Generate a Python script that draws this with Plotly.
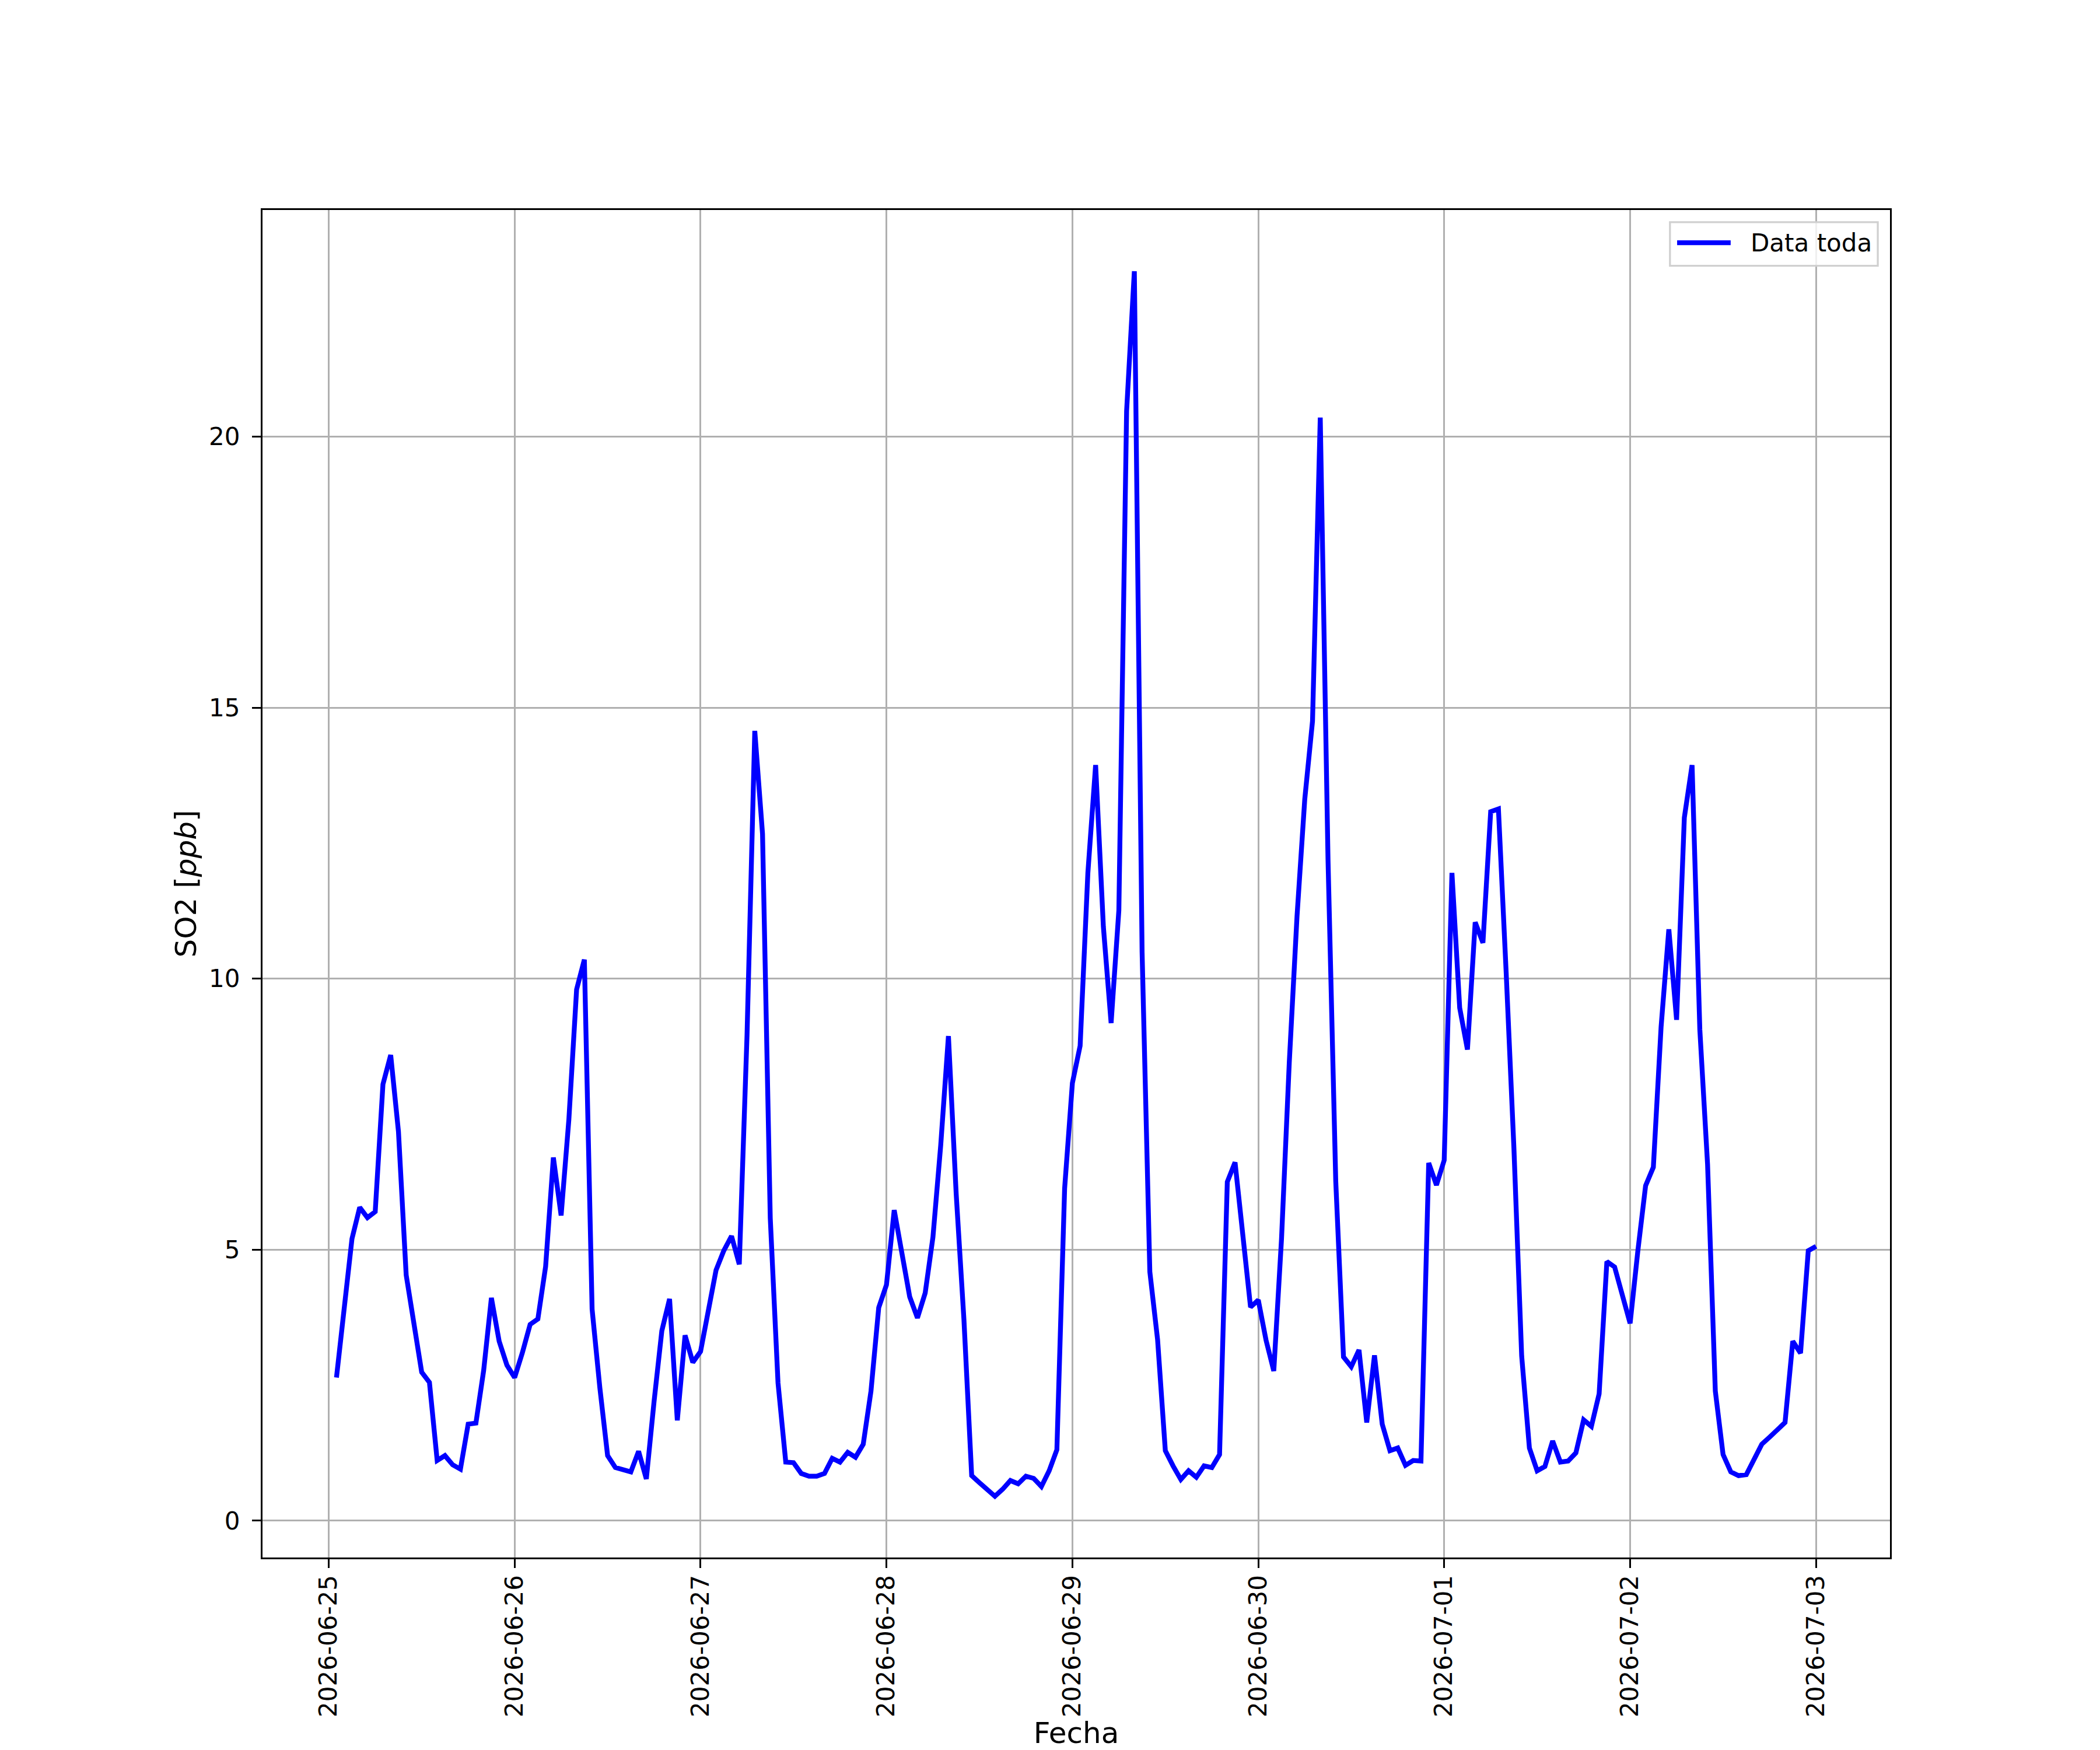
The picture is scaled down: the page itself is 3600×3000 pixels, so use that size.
import pandas as pd
import plotly.graph_objects as go

# hourly SO2 readings, 2026-06-25 01:00 .. 2026-07-03 00:00
start_time = "2026-06-25 01:00"
so2_ppb = [
    # 06-25
    2.64, 3.9, 5.2, 5.78, 5.59, 5.70, 8.05, 8.59, 7.18, 4.53, 3.62, 2.74,
    2.55, 1.11, 1.20, 1.03, 0.95, 1.78, 1.80, 2.77, 4.11, 3.31, 2.87, 2.64,
    # 06-26
    3.10, 3.62, 3.72, 4.69, 6.70, 5.63, 7.40, 9.80, 10.35, 3.9, 2.45, 1.20,
    0.98, 0.95, 0.90, 1.28, 0.77, 2.2, 3.50, 4.09, 1.85, 3.42, 2.92, 3.12,
    # 06-27
    3.92, 4.62, 4.98, 5.25, 4.73, 8.96, 14.57, 12.67, 5.58, 2.54, 1.08, 1.07,
    0.87, 0.82, 0.82, 0.87, 1.15, 1.08, 1.26, 1.17, 1.41, 2.39, 3.93, 4.35,
    # 06-28
    5.73, 4.93, 4.13, 3.74, 4.20, 5.23, 6.92, 8.94, 6.03, 3.71, 0.83, 0.70,
    0.58, 0.45, 0.58, 0.74, 0.68, 0.82, 0.78, 0.63, 0.92, 1.31, 6.13, 8.07,
    # 06-29
    8.76, 11.95, 13.94, 10.96, 9.18, 11.26, 20.47, 23.05, 10.49, 4.59, 3.34, 1.29,
    1.01, 0.76, 0.92, 0.80, 1.01, 0.98, 1.22, 6.25, 6.61, 5.3, 3.94, 4.07,
    # 06-30
    3.33, 2.76, 5.2, 8.45, 11.15, 13.31, 14.75, 20.35, 12.2, 6.26, 3.02, 2.84,
    3.15, 1.81, 3.05, 1.78, 1.29, 1.34, 1.02, 1.11, 1.10, 6.60, 6.19, 6.65,
    # 07-01
    11.95, 9.46, 8.69, 11.04, 10.66, 13.08, 13.13, 10.11, 6.87, 3.04, 1.34, 0.92,
    1.00, 1.47, 1.08, 1.10, 1.25, 1.86, 1.74, 2.34, 4.78, 4.68, 4.18, 3.64,
    # 07-02
    4.98, 6.18, 6.52, 9.11, 10.91, 9.24, 12.97, 13.94, 9.06, 6.57, 2.39, 1.22,
    0.90, 0.83, 0.85, 1.15, 1.41, 1.54, 1.67, 1.81, 3.31, 3.09, 4.98, 5.06,
]
series_name = "Data toda"
x_title = "Fecha"
y_title = "SO2 [<i>ppb</i>]"

times = pd.date_range(start_time, periods=len(so2_ppb), freq="h")

# matplotlib style 5% autoscale margins
pad_t = (times[-1] - times[0]) * 0.05
x_range = [times[0] - pad_t, times[-1] + pad_t]
pad_y = (max(so2_ppb) - min(so2_ppb)) * 0.05
y_range = [min(so2_ppb) - pad_y, max(so2_ppb) + pad_y]

FONT = "DejaVu Sans"
FS = 42        # tick / legend text
FS_TITLE = 50  # axis labels
LW = 3.3

fig = go.Figure()
fig.add_trace(go.Scatter(x=times, y=so2_ppb, mode="lines", name=series_name,
                         line=dict(color="#0000ff", width=8.3)))

axis_common = dict(
    showline=True, linecolor="black", linewidth=LW, mirror=True,
    ticks="outside", ticklen=15, tickwidth=LW, tickcolor="black",
    showgrid=True, gridcolor="#b0b0b0", gridwidth=LW, zeroline=False,
    tickfont=dict(family=FONT, size=FS, color="black"),
    automargin=False,
)

fig.update_xaxes(
    type="date", range=x_range, tickformat="%Y-%m-%d",
    tick0="2026-06-25", dtick=86400000, tickangle=-90,
    ticklabelstandoff=-5,
    title=dict(text=x_title, font=dict(family=FONT, size=FS_TITLE, color="black"), standoff=23),
    **axis_common,
)
fig.update_yaxes(
    range=y_range, tick0=0, dtick=5, ticklabelstandoff=12,
    title=dict(text=y_title, font=dict(family=FONT, size=FS_TITLE, color="black"), standoff=6),
    **axis_common,
)

# legend box drawn like matplotlib's (upper right)
fig.add_shape(type="rect", xref="paper", yref="paper",
              x0=0.8648, x1=0.9925, y0=0.9586, y1=0.991,
              line=dict(color="#d0d0d0", width=LW), fillcolor="rgba(255,255,255,0.8)",
              layer="above")
fig.add_shape(type="line", xref="paper", yref="paper",
              x0=0.8692, x1=0.9021, y0=0.9757, y1=0.9757,
              line=dict(color="#0000ff", width=8.3), layer="above")
fig.add_annotation(text=series_name, xref="paper", yref="paper", x=0.9135, y=0.9757,
                   xanchor="left", yanchor="middle", showarrow=False,
                   font=dict(family=FONT, size=FS, color="black"))

# same box as matplotlib's default subplot (0.125..0.9 x 0.11..0.88)
fig.update_layout(
    width=3600, height=3000,
    margin=dict(l=450, r=360, t=360, b=330),
    paper_bgcolor="white", plot_bgcolor="white",
    showlegend=False,
    font=dict(family=FONT, size=FS, color="black"),
)

# drop the page's default 8px body margin so the figure fills the window exactly
fig.write_html("out.html", config={"displayModeBar": False},
               post_script="document.body.style.margin='0';")
